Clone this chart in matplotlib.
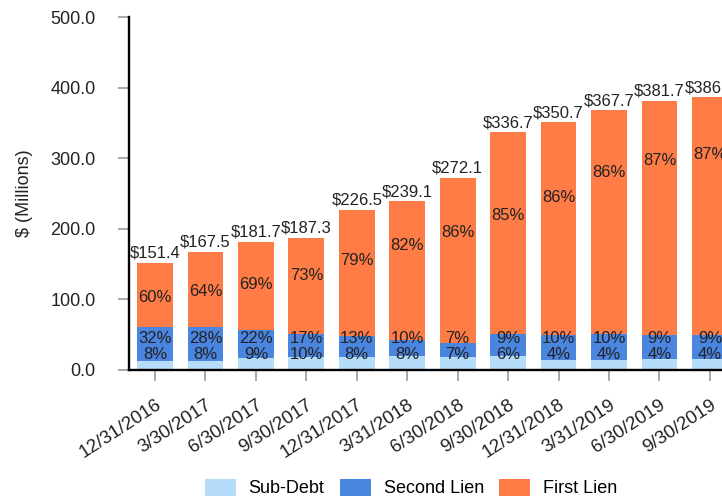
import matplotlib
matplotlib.use("Agg")
import matplotlib.pyplot as plt
import numpy as np

plt.rcParams['font.family'] = ['Liberation Sans', 'DejaVu Sans']

# Quarter-end reporting dates
dates = ["12/31/2016", "3/30/2017", "6/30/2017", "9/30/2017", "12/31/2017",
         "3/31/2018", "6/30/2018", "9/30/2018", "12/31/2018", "3/31/2019",
         "6/30/2019", "9/30/2019"]

# Total portfolio ($ millions)
totals = [151.4, 167.5, 181.7, 187.3, 226.5, 239.1, 272.1, 336.7, 350.7,
          367.7, 381.7, 386.5]

# Composition (% of total)
pct_sub = [8, 8, 9, 10, 8, 8, 7, 6, 4, 4, 4, 4]
pct_second = [32, 28, 22, 17, 13, 10, 7, 9, 10, 10, 9, 9]
pct_first = [60, 64, 69, 73, 79, 82, 86, 85, 86, 86, 87, 87]

# Where the first-lien label sits within its segment (0 = bottom, 1 = top)
first_label_frac = [0.46, 0.47, 0.52, 0.61, 0.60, 0.68, 0.67, 0.59, 0.645,
                    0.72, 0.746, 0.757]

c_sub = '#b5dcf8'
c_second = '#4a85df'
c_first = '#ff7c46'
txt = '#222222'

totals_a = np.array(totals)
sub = totals_a * np.array(pct_sub) / 100
second = totals_a * np.array(pct_second) / 100
first = totals_a - sub - second

fig = plt.figure(figsize=(7.22, 5.04), dpi=100)
ax = fig.add_axes([129 / 722, 134 / 504, 0.8745, 353 / 504])

x = np.arange(len(dates))
w = 0.71
ax.bar(x, sub, w, color=c_sub, label='Sub-Debt')
ax.bar(x, second, w, bottom=sub, color=c_second, label='Second Lien')
ax.bar(x, first, w, bottom=sub + second, color=c_first, label='First Lien')

for i in range(len(x)):
    ax.text(x[i], totals[i] + 3, f"${totals[i]:.1f}", ha='center', va='bottom',
            fontsize=12, color=txt)
    y_sub = max(sub[i] / 2, 22)
    y_sec = max(sub[i] + second[i] / 2, 44.5)
    y_first = sub[i] + second[i] + first[i] * first_label_frac[i]
    ax.text(x[i], y_sub, f"{pct_sub[i]}%", ha='center', va='center',
            fontsize=12, color=txt)
    ax.text(x[i], y_sec, f"{pct_second[i]}%", ha='center', va='center',
            fontsize=12, color=txt)
    ax.text(x[i], y_first, f"{pct_first[i]}%", ha='center', va='center',
            fontsize=12, color=txt)

ax.set_xlim(-0.515, 12.0)
ax.set_ylim(0, 500)
ax.set_yticks(np.arange(0, 501, 100))
ax.set_yticklabels([f"{v:.1f}" for v in np.arange(0, 501, 100)])
ax.set_xticks(x)
ax.set_xticklabels(dates, rotation=33, ha='right', rotation_mode='anchor')

for s in ['top', 'right']:
    ax.spines[s].set_visible(False)
for s in ['left', 'bottom']:
    ax.spines[s].set_linewidth(1.7)
    ax.spines[s].set_color('black')

ax.tick_params(axis='y', length=8, width=1.2, color='#999999', pad=16,
               labelsize=13, labelcolor=txt)
ax.tick_params(axis='x', length=8, width=1.2, color='#999999', pad=11,
               labelsize=13.5, labelcolor=txt)
ax.set_ylabel('$ (Millions)', fontsize=13, color=txt)
ax.yaxis.set_label_coords(-96 / (0.8745 * 722), 0.5)

fig.legend(loc='center', bbox_to_anchor=(411 / 722, 16 / 504), ncol=3,
           frameon=False, fontsize=13, handlelength=1.7, handleheight=1.1,
           handletextpad=0.72, columnspacing=0.85)

fig.savefig('out.png', dpi=100)
